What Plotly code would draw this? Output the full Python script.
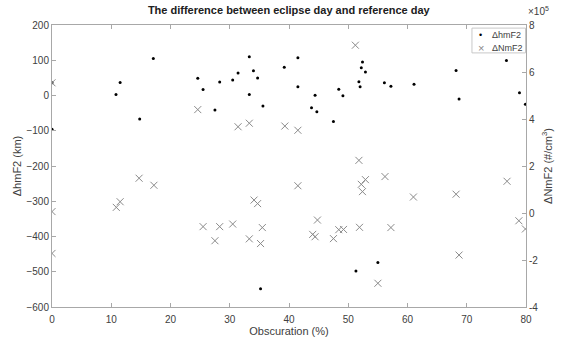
import plotly.graph_objects as go

# ΔhmF2 (km) vs obscuration (%)
obsc_hm = [0, 0, 10.8, 11.5, 14.8, 17.1, 24.6, 25.5, 27.5, 28.3, 30.5, 31.4, 33.3, 34.0, 34.7,
           33.3, 35.6, 35.2, 39.2, 41.5, 41.5, 44.4, 43.8, 44.7, 47.5, 48.4, 49.1, 52.4,
           52.2, 52.9, 51.8, 52.0, 51.3, 55.0, 56.1, 57.2, 61.1, 68.2, 68.7, 76.7, 78.9, 79.9]
d_hmf2 = [36, -96, 3, 37, -67, 105, 49, 17, -41, 38, 44, 64, 110, 70, 50,
          3, -30, -548, 80, 107, 25, 1, -35, -46, -74, 18, -1, 95,
          79, 67, 39, 25, -498, -474, 36, 26, 32, 71, -10, 99, 8, -25]

# ΔNmF2 (#/cm^3) vs obscuration (%)
obsc_nm = [0, 0, 0, 10.85, 11.5, 14.7, 17.2, 24.6, 25.5, 27.5, 28.3, 30.5, 31.4, 33.3, 33.3,
           34.1, 34.7, 35.5, 35.2, 39.3, 41.5, 41.5, 44.8, 44.0, 44.4, 47.5, 48.4, 49.2,
           51.2, 51.8, 51.9, 52.2, 52.9, 52.4, 56.2, 57.2, 55.0, 61.0, 68.2, 68.7, 76.8, 78.8, 79.9]
d_nmf2 = [5.54e5, 0.06e5, -1.72e5, 0.24e5, 0.48e5, 1.48e5, 1.18e5, 4.4e5, -0.58e5, -1.18e5, -0.58e5,
          -0.47e5, 3.67e5, 3.82e5, -1.1e5, 0.55e5, 0.4e5, -0.62e5, -1.3e5, 3.7e5, 3.52e5, 1.16e5,
          -0.3e5, -0.91e5, -1.01e5, -1.09e5, -0.71e5, -0.7e5, 7.14e5, 2.24e5, -0.61e5, 1.22e5,
          1.42e5, 0.91e5, 1.55e5, -0.62e5, -2.99e5, 0.68e5, 0.8e5, -1.79e5, 1.35e5, -0.33e5, -0.68e5]

x_ticks = [0, 10, 20, 30, 40, 50, 60, 70, 80]
left_ticks = [200, 100, 0, -100, -200, -300, -400, -500, -600]
right_ticks = [8e5, 6e5, 4e5, 2e5, 0, -2e5, -4e5]
right_tick_labels = ["8", "6", "4", "2", "0", "-2", "-4"]
series_names = ["ΔhmF2", "ΔNmF2"]

font_family = "Liberation Sans, Arial, sans-serif"
txt = "#404040"
axc = "#a8a8a8"
dot_color = "black"
x_color = "#8a8a8a"

fig = go.Figure()
fig.add_trace(go.Scatter(x=obsc_hm, y=d_hmf2, mode="markers", name=series_names[0],
                         marker=dict(symbol="circle", size=3, color=dot_color), yaxis="y"))
fig.add_trace(go.Scatter(x=obsc_nm, y=d_nmf2, mode="markers", name=series_names[1],
                         marker=dict(symbol="x-thin", size=7, line=dict(color=x_color, width=1)),
                         yaxis="y2"))

fig.update_layout(
    width=563, height=340,
    margin=dict(l=52, r=37, t=25, b=33, autoexpand=False),
    paper_bgcolor="white", plot_bgcolor="white",
    font=dict(family=font_family, size=10, color=txt),
    title=dict(text="<b>The difference between eclipse day and reference day</b>",
               x=0.513, xanchor="center", y=0.97, yanchor="middle",
               font=dict(size=11, color="#202020")),
    xaxis=dict(range=[0, 80], tickvals=x_ticks, ticks="inside", ticklen=4, tickcolor=axc,
               showline=True, linecolor=axc, mirror="ticks", showgrid=False, zeroline=False,
               ticklabelstandoff=3, automargin=False,
               title=dict(text="Obscuration (%)", standoff=3, font=dict(size=11)),
               tickfont=dict(size=10)),
    yaxis=dict(range=[-600, 200], tickvals=left_ticks, ticks="inside", ticklen=4, tickcolor=axc,
               showline=True, linecolor=axc, showgrid=False, zeroline=False, automargin=False,
               title=dict(text="ΔhmF2 (km)", standoff=2, font=dict(size=11)),
               tickfont=dict(size=10)),
    yaxis2=dict(range=[-4e5, 8e5], tickvals=right_ticks, ticktext=right_tick_labels,
                overlaying="y", side="right", ticks="inside", ticklen=4, tickcolor=axc,
                showline=True, linecolor=axc, showgrid=False, zeroline=False, automargin=False,
                title=dict(text="ΔNmF2 (#/cm<sup>3</sup>)", standoff=6, font=dict(size=11)),
                tickfont=dict(size=10)),
    showlegend=False,
)
fig.add_annotation(text="×10<sup>5</sup>", xref="paper", yref="paper", x=1.0, y=1.022,
                   xanchor="left", yanchor="bottom", showarrow=False, font=dict(size=10, color=txt))

# compact legend box (top-right inside the axes)
fig.add_shape(type="rect", xref="paper", yref="paper", x0=0.886, x1=0.999, y0=0.901, y1=0.989,
              line=dict(color="#c8c8c8", width=1), fillcolor="white", layer="above")
fig.add_annotation(text="•", xref="paper", yref="paper", x=0.905, y=0.9645, showarrow=False,
                   xanchor="center", yanchor="middle", font=dict(size=9, color=dot_color))
fig.add_annotation(text="×", xref="paper", yref="paper", x=0.905, y=0.919, showarrow=False,
                   xanchor="center", yanchor="middle", font=dict(size=11, color=x_color))
fig.add_annotation(text=series_names[0], xref="paper", yref="paper", x=0.924, y=0.9645, showarrow=False,
                   xanchor="left", yanchor="middle", font=dict(size=9, color=txt))
fig.add_annotation(text=series_names[1], xref="paper", yref="paper", x=0.924, y=0.919, showarrow=False,
                   xanchor="left", yanchor="middle", font=dict(size=9, color=txt))

fig.write_html("out.html")
